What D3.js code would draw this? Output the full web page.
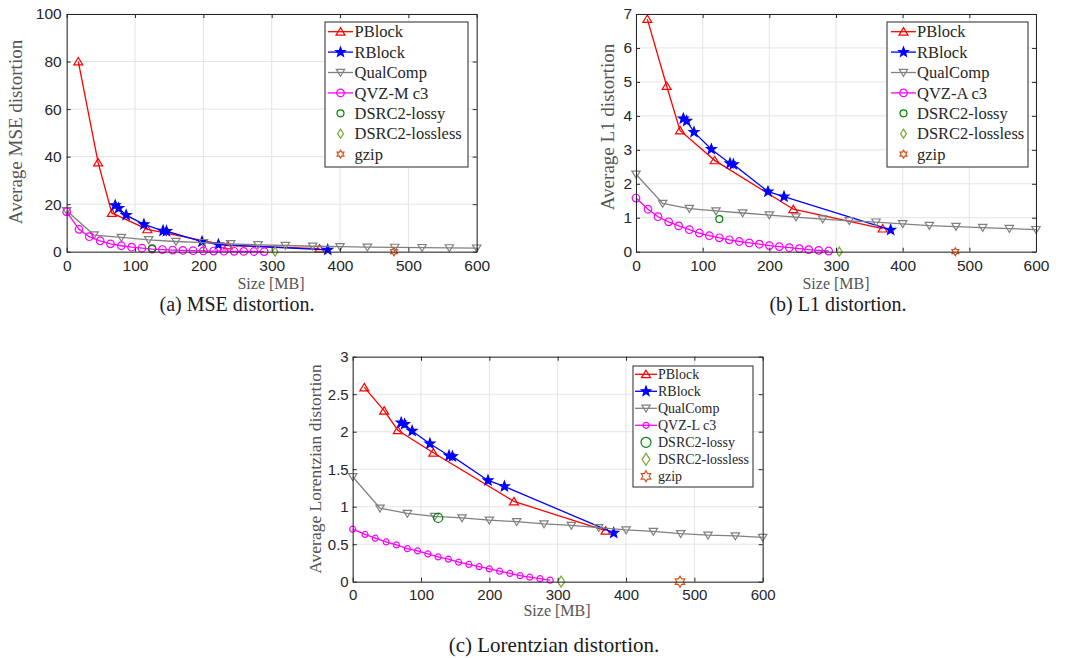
<!DOCTYPE html>
<html>
<head>
<meta charset="utf-8">
<script src="https://cdn.jsdelivr.net/npm/d3@7"></script>
<style>
  body { margin: 0; background: #fff; }
  svg { display: block; }
</style>
</head>
<body>
<svg width="1066" height="658"></svg>
<script>
// tick labels
const sizeTicks = [0, 100, 200, 300, 400, 500, 600];
const mseTicks = [0, 20, 40, 60, 80, 100];
const l1Ticks = [0, 1, 2, 3, 4, 5, 6, 7];
const lorTicks = [0, 0.5, 1, 1.5, 2, 2.5, 3];

// PBlock
const pblockSize = [17, 46, 66, 118, 236, 370];
const pblockMSE = [80, 37.5, 16.3, 9.4, 2.6, 1.3];
const pblockL1 = [6.85, 4.88, 3.57, 2.69, 1.25, 0.68];
const pblockLor = [2.59, 2.28, 2.02, 1.72, 1.07, 0.68];

// RBlock
const rblockSize = [71, 76, 87, 113, 141, 146, 198, 222, 382];
const rblockMSE = [19.5, 18.3, 15.4, 11.5, 8.8, 8.6, 4.2, 3.0, 0.8];
const rblockL1 = [3.92, 3.85, 3.52, 3.02, 2.60, 2.57, 1.77, 1.62, 0.64];
const rblockLor = [2.12, 2.10, 2.01, 1.84, 1.68, 1.67, 1.35, 1.27, 0.65];

// QualComp
const qualSize = [0, 40, 80, 120, 160, 200, 240, 280, 320, 360, 400, 440, 480, 520, 560, 600];
const qualMSE = [17.2, 7.0, 6.0, 5.0, 4.3, 3.8, 3.3, 2.9, 2.6, 2.3, 2.1, 1.9, 1.8, 1.7, 1.6, 1.5];
const qualL1 = [2.28, 1.42, 1.27, 1.20, 1.14, 1.08, 1.02, 0.96, 0.91, 0.87, 0.82, 0.77, 0.74, 0.71, 0.68, 0.65];
const qualLor = [1.40, 0.98, 0.91, 0.87, 0.85, 0.82, 0.80, 0.77, 0.75, 0.72, 0.69, 0.67, 0.64, 0.62, 0.61, 0.59];

// QVZ c3
const qvzSize = [0, 18, 33, 49, 64, 80, 95, 110, 125, 140, 155, 170, 185, 200, 215, 230, 245, 259, 274, 289];
const qvzMSE = [16.8, 9.4, 6.3, 4.6, 3.3, 2.5, 1.9, 1.5, 1.1, 0.9, 0.7, 0.55, 0.45, 0.35, 0.28, 0.22, 0.17, 0.12, 0.08, 0.05];
const qvzL1 = [1.58, 1.25, 1.03, 0.88, 0.76, 0.65, 0.55, 0.47, 0.41, 0.35, 0.30, 0.26, 0.22, 0.18, 0.15, 0.12, 0.09, 0.06, 0.04, 0.02];
const qvzLor = [0.70, 0.63, 0.58, 0.53, 0.49, 0.44, 0.41, 0.37, 0.33, 0.30, 0.26, 0.23, 0.20, 0.17, 0.14, 0.11, 0.08, 0.06, 0.04, 0.02];

// single points
const dsrcLossySize = [125];
const dsrcLossyMSE = [1.4];
const dsrcLossyL1 = [0.96];
const dsrcLossyLor = [0.85];
const dsrcLosslessSize = [305];
const dsrcLosslessVal = [0];
const gzipSize = [479];
const gzipVal = [0];

const serif = "'Liberation Serif', 'Times New Roman', serif";
const sans = "'Liberation Sans', Arial, sans-serif";

const svg = d3.select('svg');

function markerPath(type, r) {
  const p = d3.path();
  if (type === 'tri') {
    p.moveTo(0, -r * 0.9); p.lineTo(r, r * 0.75); p.lineTo(-r, r * 0.75); p.closePath();
  } else if (type === 'dtri') {
    p.moveTo(0, r * 0.9); p.lineTo(r, -r * 0.75); p.lineTo(-r, -r * 0.75); p.closePath();
  } else if (type === 'circle') {
    p.moveTo(r, 0); p.arc(0, 0, r, 0, 2 * Math.PI);
  } else if (type === 'diamond') {
    p.moveTo(0, -r); p.lineTo(r * 0.65, 0); p.lineTo(0, r); p.lineTo(-r * 0.65, 0); p.closePath();
  } else if (type === 'star' || type === 'hex') {
    const n = type === 'star' ? 5 : 6;
    const inner = type === 'star' ? 0.42 : 0.58;
    for (let i = 0; i < n * 2; i++) {
      const a = -Math.PI / 2 + i * Math.PI / n;
      const rr = i % 2 === 0 ? r : r * inner;
      if (i === 0) p.moveTo(rr * Math.cos(a), rr * Math.sin(a));
      else p.lineTo(rr * Math.cos(a), rr * Math.sin(a));
    }
    p.closePath();
  }
  return p.toString();
}

function drawPanel(cfg) {
  const g = svg.append('g').attr('transform', `translate(${cfg.left},${cfg.top})`);
  const x = d3.scaleLinear().domain([0, 600]).range([0, cfg.w]);
  const y = d3.scaleLinear().domain([0, cfg.yTicks[cfg.yTicks.length - 1]]).range([cfg.h, 0]);

  // grid
  g.append('g').selectAll('line').data(sizeTicks).join('line')
    .attr('x1', d => x(d)).attr('x2', d => x(d)).attr('y1', 0).attr('y2', cfg.h)
    .attr('stroke', '#e4e4e4').attr('stroke-width', 1);
  g.append('g').selectAll('line').data(cfg.yTicks).join('line')
    .attr('y1', d => y(d)).attr('y2', d => y(d)).attr('x1', 0).attr('x2', cfg.w)
    .attr('stroke', '#e4e4e4').attr('stroke-width', 1);

  // series
  cfg.series.forEach(s => {
    const pts = s.xs.map((v, i) => [x(v), y(s.ys[i])]);
    if (s.line) {
      g.append('path').attr('d', d3.line()(pts))
        .attr('fill', 'none').attr('stroke', s.color).attr('stroke-width', 1.3);
    }
    g.append('g').selectAll('path').data(pts).join('path')
      .attr('transform', d => `translate(${d[0]},${d[1]})`)
      .attr('d', markerPath(s.marker, s.r))
      .attr('fill', s.fill ? s.color : 'none')
      .attr('stroke', s.color).attr('stroke-width', 1.2);
  });

  // axes, ticks pointing inward on all four sides
  const fmt = d3.format('~g');
  const none = () => '';
  const axes = [
    g.append('g').attr('transform', `translate(0,${cfg.h})`)
      .call(d3.axisBottom(x).tickValues(sizeTicks).tickSizeInner(-4).tickSizeOuter(0).tickPadding(cfg.xPad).tickFormat(fmt)),
    g.append('g')
      .call(d3.axisTop(x).tickValues(sizeTicks).tickSizeInner(-4).tickSizeOuter(0).tickFormat(none)),
    g.append('g')
      .call(d3.axisLeft(y).tickValues(cfg.yTicks).tickSizeInner(-4).tickSizeOuter(0).tickPadding(cfg.yPad).tickFormat(fmt)),
    g.append('g').attr('transform', `translate(${cfg.w},0)`)
      .call(d3.axisRight(y).tickValues(cfg.yTicks).tickSizeInner(-4).tickSizeOuter(0).tickFormat(none))
  ];
  axes.forEach(a => {
    a.select('.domain').attr('stroke', '#262626').attr('stroke-width', 1);
    a.selectAll('.tick line').attr('stroke', '#262626');
    a.selectAll('.tick text').attr('fill', '#262626')
      .style('font-family', sans).style('font-size', cfg.tickFont + 'px');
  });

  // axis labels
  svg.append('text').attr('x', cfg.xLabel[0]).attr('y', cfg.xLabel[1]).attr('dy', '0.35em')
    .attr('text-anchor', 'middle').attr('fill', '#555')
    .style('font-family', serif).style('font-size', cfg.xLabelFont + 'px')
    .text('Size [MB]');
  svg.append('text')
    .attr('transform', `translate(${cfg.yLabel[0]},${cfg.yLabel[1]}) rotate(-90)`)
    .attr('dy', '0.33em').attr('text-anchor', 'middle').attr('fill', '#555')
    .style('font-family', serif).style('font-size', cfg.yLabelFont + 'px')
    .text(cfg.yTitle);

  // caption
  svg.append('text').attr('x', cfg.caption[0]).attr('y', cfg.caption[1])
    .attr('text-anchor', 'middle').attr('fill', '#1a1a1a')
    .style('font-family', serif).style('font-size', cfg.captionFont + 'px')
    .text(cfg.captionText);

  // legend
  const L = cfg.legend;
  svg.append('rect').attr('x', L.x).attr('y', L.y).attr('width', L.w).attr('height', L.h)
    .attr('fill', '#fff').attr('stroke', '#262626').attr('stroke-width', 1);
  cfg.series.forEach((s, i) => {
    const cy = L.row0 + i * L.step;
    const mx = (L.line0 + L.line1) / 2;
    if (s.line) {
      svg.append('line').attr('x1', L.line0).attr('x2', L.line1).attr('y1', cy).attr('y2', cy)
        .attr('stroke', s.color).attr('stroke-width', 1.3);
    }
    svg.append('path').attr('transform', `translate(${mx},${cy})`)
      .attr('d', markerPath(s.marker, s.legendR || s.r))
      .attr('fill', s.fill ? s.color : 'none')
      .attr('stroke', s.color).attr('stroke-width', 1.2);
    svg.append('text').attr('x', L.text).attr('y', cy).attr('dy', '0.35em')
      .attr('fill', '#262626')
      .style('font-family', serif).style('font-size', L.font + 'px')
      .text(s.name);
  });
}

function makeSeries(vals, qvzName, big) {
  return [
    { name: 'PBlock', xs: pblockSize, ys: vals[0], color: '#ff0000', marker: 'tri', r: 4.5, legendR: 4.5, line: true },
    { name: 'RBlock', xs: rblockSize, ys: vals[1], color: '#0000ff', marker: 'star', r: 5.2, legendR: 5, line: true, fill: true },
    { name: 'QualComp', xs: qualSize, ys: vals[2], color: '#808080', marker: 'dtri', r: 4.2, line: true },
    { name: qvzName, xs: qvzSize, ys: vals[3], color: '#ff00ff', marker: 'circle', r: big ? 3 : 3.8, line: true },
    { name: 'DSRC2-lossy', xs: dsrcLossySize, ys: vals[4], color: '#008000', marker: 'circle', r: big ? 4.5 : 3.5, legendR: big ? 5 : 3.5 },
    { name: 'DSRC2-lossless', xs: dsrcLosslessSize, ys: dsrcLosslessVal, color: '#77ac30', marker: 'diamond', r: big ? 5.5 : 4.5, legendR: big ? 6 : 4.5 },
    { name: 'gzip', xs: gzipSize, ys: gzipVal, color: '#d95319', marker: 'hex', r: big ? 5.5 : 4, legendR: big ? 5.5 : 4 }
  ];
}

drawPanel({
  left: 66.7, top: 14, w: 410, h: 237.7,
  yTicks: mseTicks, yTitle: 'Average MSE distortion',
  series: makeSeries([pblockMSE, rblockMSE, qualMSE, qvzMSE, dsrcLossyMSE], 'QVZ-M c3', false),
  xPad: 8, yPad: 5, tickFont: 15.5, xLabelFont: 16, yLabelFont: 19, captionFont: 20,
  xLabel: [271, 283.5], yLabel: [16, 132],
  caption: [237, 311], captionText: '(a) MSE distortion.',
  legend: { x: 325, y: 22, w: 143, h: 145, row0: 31.7, step: 20.4, line0: 328, line1: 353, text: 354.5, font: 16.5 }
});

drawPanel({
  left: 636, top: 14, w: 400, h: 237.7,
  yTicks: l1Ticks, yTitle: 'Average L1 distortion',
  series: makeSeries([pblockL1, rblockL1, qualL1, qvzL1, dsrcLossyL1], 'QVZ-A c3', false),
  xPad: 8, yPad: 4, tickFont: 15.5, xLabelFont: 16, yLabelFont: 19, captionFont: 20,
  xLabel: [836, 283.5], yLabel: [607.5, 127],
  caption: [838, 311], captionText: '(b) L1 distortion.',
  legend: { x: 887, y: 22, w: 141, h: 145, row0: 31.7, step: 20.4, line0: 891, line1: 916, text: 917, font: 16.5 }
});

drawPanel({
  left: 352.7, top: 356.7, w: 410, h: 225,
  yTicks: lorTicks, yTitle: 'Average Lorentzian distortion',
  series: makeSeries([pblockLor, rblockLor, qualLor, qvzLor, dsrcLossyLor], 'QVZ-L c3', true),
  xPad: 8, yPad: 4, tickFont: 15, xLabelFont: 16, yLabelFont: 17.5, captionFont: 21,
  xLabel: [557, 610], yLabel: [315, 469],
  caption: [554, 652], captionText: '(c) Lorentzian distortion.',
  legend: { x: 633, y: 366, w: 120, h: 121, row0: 374.3, step: 17, line0: 635, line1: 657, text: 658, font: 14 }
});
</script>
</body>
</html>
